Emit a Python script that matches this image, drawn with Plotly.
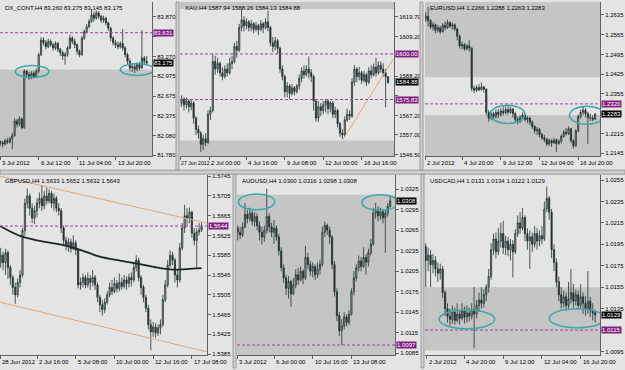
import plotly.graph_objects as go

# ======================= DATA =======================
# ---- DX_CONT,H4 ----
dx_title = "DX_CONT,H4 83.260 83.275 83.145 83.175"
dx_open0 = 81.99
dx_close = [81.97, 81.95, 82.00, 81.98, 82.03, 82.08, 82.30, 82.25, 82.33, 82.20,
            83.05, 83.00, 82.95, 83.02, 82.97, 83.05, 83.30, 83.52, 83.48, 83.42,
            83.50, 83.45, 83.40, 83.47, 83.38, 83.33, 83.28, 83.30, 83.40, 83.55,
            83.50, 83.45, 83.35, 83.30, 83.55, 83.65, 83.72, 83.80, 83.90, 83.85,
            83.93, 83.88, 83.82, 83.85, 83.78, 83.70, 83.55, 83.48, 83.45, 83.42,
            83.47, 83.40, 83.30, 83.20, 83.10, 83.12, 83.08, 83.15, 83.10, 83.25,
            83.20, 83.175]
dx_high = [82.00, 82.00, 82.03, 82.04, 82.06, 82.12, 82.34, 82.33, 82.37, 82.35,
           83.08, 83.07, 83.04, 83.05, 83.05, 83.09, 83.33, 83.56, 83.56, 83.52,
           83.54, 83.53, 83.48, 83.50, 83.49, 83.40, 83.36, 83.34, 83.43, 83.60,
           83.58, 83.54, 83.47, 83.38, 83.58, 83.68, 83.76, 83.84, 83.99, 83.95,
           83.97, 83.96, 83.90, 83.89, 83.87, 83.80, 83.72, 83.58, 83.52, 83.50,
           83.50, 83.69, 83.43, 83.33, 83.24, 83.16, 83.16, 83.18, 83.19, 83.67,
           83.28, 83.28]
dx_low = [81.92, 81.90, 81.93, 81.95, 81.96, 81.87, 82.06, 82.20, 82.22, 82.17,
          82.18, 82.95, 82.92, 82.93, 82.94, 82.95, 83.02, 83.28, 83.44, 83.38,
          83.40, 83.42, 83.36, 83.37, 83.34, 83.28, 83.22, 83.15, 83.27, 83.38,
          83.46, 83.40, 83.30, 83.26, 83.28, 83.52, 83.62, 83.70, 83.78, 83.80,
          83.83, 83.84, 83.78, 83.78, 83.74, 83.66, 83.50, 83.44, 83.40, 83.38,
          83.39, 83.36, 83.26, 83.16, 83.05, 83.04, 83.02, 83.05, 83.06, 83.08,
          83.14, 83.145]
dx_yticks = [83.870, 83.570, 83.270, 82.975, 82.675, 82.375, 82.080, 81.780]
dx_yticktext = ["83.870", "", "83.270", "82.975", "82.675", "82.375", "82.080", "81.780"]
dx_dates = ["3 Jul 2012", "6 Jul 12:00", "11 Jul 04:00", "13 Jul 20:00"]
dx_date_pos = [-0.1, 16, 32, 48]
dx_levels = [83.631]
dx_last = 83.175
dx_zones = [[81.765, 83.075]]
dx_ell_centers = [[13.3, 83.045], [57.0, 83.075]]

# ---- XAU,H4 ----
xau_title = "XAU,H4 1587.94 1588.26 1584.13 1584.88"
xau_open0 = 1572
xau_close = [1574, 1576, 1573, 1575, 1572, 1574, 1566, 1560, 1558, 1552,
             1555, 1553, 1568, 1570, 1596, 1592, 1595, 1590, 1588, 1592,
             1590, 1595, 1596, 1604, 1602, 1614, 1618, 1615, 1617, 1614,
             1616, 1613, 1615, 1613, 1616, 1614, 1617, 1614, 1606, 1604,
             1607, 1603, 1592, 1588, 1580, 1583, 1579, 1582, 1580, 1583,
             1587, 1591, 1589, 1592, 1590, 1588, 1575, 1566, 1572, 1570,
             1573, 1575, 1571, 1574, 1568, 1570, 1563, 1558, 1557, 1565,
             1568, 1567, 1585, 1592, 1588, 1590, 1586, 1589, 1585, 1591,
             1589, 1593, 1590, 1594, 1592, 1590, 1587.9, 1584.88]
xau_high = [1577, 1578, 1577, 1577, 1576, 1576, 1575, 1567, 1562, 1559,
            1557, 1558, 1570, 1572, 1600, 1599, 1598, 1596, 1593, 1594,
            1595, 1598, 1599, 1606, 1607, 1616, 1624, 1620, 1619, 1618,
            1618, 1617, 1617, 1616, 1618, 1617, 1619, 1623, 1615, 1609,
            1609, 1608, 1604, 1594, 1589, 1585, 1584, 1584, 1583, 1584,
            1589, 1593, 1594, 1594, 1598.7, 1592, 1589, 1576, 1575, 1574,
            1575, 1576, 1576, 1575, 1575, 1572, 1571, 1564, 1560, 1567,
            1571, 1570, 1587, 1594, 1593, 1593, 1591, 1591, 1590, 1593,
            1594, 1595, 1598, 1596, 1596, 1595, 1592, 1588.26]
xau_low = [1567, 1572, 1570, 1571, 1569, 1570, 1563, 1557, 1555, 1548,
           1549, 1551, 1552, 1565, 1569, 1589, 1590, 1588, 1586, 1587,
           1588, 1589, 1592, 1595, 1598, 1601, 1612, 1612, 1613, 1612,
           1612, 1611, 1612, 1610, 1612, 1611, 1613, 1612, 1604, 1601,
           1602, 1600, 1590, 1586, 1577, 1577, 1576, 1578, 1578, 1579,
           1581, 1585, 1587, 1588, 1587, 1585, 1570, 1564, 1564, 1567,
           1568, 1569, 1568, 1569, 1566, 1566, 1561, 1556, 1555, 1556,
           1564, 1565, 1566, 1583, 1585, 1586, 1584, 1585, 1583, 1584,
           1587, 1588, 1588, 1589, 1590, 1588, 1571.6, 1584.13]
xau_yticks = [1619.70, 1609.20, 1598.70, 1588.20, 1577.70, 1567.20, 1557.00, 1546.50]
xau_yticktext = ["1619.70", "1609.20", "", "1588.20", "", "1567.20", "1557.00", "1546.50"]
xau_dates = ["27 Jun 2012", "2 Jul 00:00", "4 Jul 16:00", "9 Jul 08:00", "12 Jul 00:00", "16 Jul 16:00"]
xau_date_pos = [0.33, 12.6, 28, 44, 60, 76]
xau_levels = [1600.00, 1575.83]
xau_last = 1584.88
xau_zones = [[1545.675, 1554.1], [1623.9, 1627.575]]
xau_trend_x = [68.25, 89.1]
xau_trend_y = [1554.6, 1597.1]

# ---- EURUSD,H4 ----
eur_title = "EURUSD,H4 1.2266 1.2288 1.2263 1.2283"
eur_open0 = 1.2620
eur_close = [1.2630, 1.2615, 1.2592, 1.2600, 1.2580, 1.2590, 1.2575, 1.2598, 1.2590, 1.2608,
             1.2595, 1.2600, 1.2585, 1.2560, 1.2525, 1.2530, 1.2515, 1.2525, 1.2518, 1.2375,
             1.2368, 1.2378, 1.2370, 1.2380, 1.2372, 1.2290, 1.2270, 1.2285, 1.2275, 1.2290,
             1.2282, 1.2295, 1.2288, 1.2300, 1.2290, 1.2302, 1.2285, 1.2265, 1.2258, 1.2272,
             1.2280, 1.2265, 1.2270, 1.2255, 1.2240, 1.2225, 1.2230, 1.2212, 1.2200, 1.2195,
             1.2178, 1.2190, 1.2182, 1.2192, 1.2180, 1.2188, 1.2205, 1.2220, 1.2215, 1.2232,
             1.2190, 1.2172, 1.2225, 1.2275, 1.2290, 1.2298, 1.2285, 1.2272, 1.2270, 1.2266,
             1.2283]
eur_high = [1.2645, 1.2663, 1.2620, 1.2610, 1.2605, 1.2600, 1.2595, 1.2605, 1.2612, 1.2618,
            1.2612, 1.2608, 1.2605, 1.2590, 1.2565, 1.2540, 1.2535, 1.2532, 1.2545, 1.2520,
            1.2385, 1.2386, 1.2390, 1.2396, 1.2384, 1.2375, 1.2298, 1.2295, 1.2292, 1.2300,
            1.2302, 1.2305, 1.2310, 1.2312, 1.2318, 1.2310, 1.2305, 1.2292, 1.2275, 1.2280,
            1.2290, 1.2285, 1.2278, 1.2275, 1.2262, 1.2245, 1.2238, 1.2235, 1.2218, 1.2210,
            1.2200, 1.2198, 1.2195, 1.2200, 1.2198, 1.2195, 1.2212, 1.2228, 1.2235, 1.2240,
            1.2235, 1.2195, 1.2230, 1.2282, 1.2300, 1.2310, 1.2305, 1.2292, 1.2285, 1.2280,
            1.2288]
eur_low = [1.2610, 1.2595, 1.2585, 1.2580, 1.2570, 1.2572, 1.2568, 1.2572, 1.2580, 1.2585,
           1.2588, 1.2582, 1.2578, 1.2545, 1.2515, 1.2512, 1.2508, 1.2510, 1.2505, 1.2365,
           1.2358, 1.2362, 1.2365, 1.2368, 1.2360, 1.2280, 1.2258, 1.2262, 1.2265, 1.2268,
           1.2270, 1.2275, 1.2278, 1.2282, 1.2280, 1.2285, 1.2272, 1.2255, 1.2248, 1.2252,
           1.2262, 1.2258, 1.2252, 1.2245, 1.2232, 1.2215, 1.2210, 1.2202, 1.2192, 1.2185,
           1.2170, 1.2172, 1.2168, 1.2178, 1.2150, 1.2175, 1.2180, 1.2200, 1.2208, 1.2210,
           1.2182, 1.2162, 1.2168, 1.2220, 1.2268, 1.2280, 1.2272, 1.2179, 1.2260, 1.2258,
           1.2263]
eur_yticks = [1.2635, 1.2565, 1.2495, 1.2425, 1.2355, 1.2285, 1.2215, 1.2145]
eur_yticktext = ["1.2635", "1.2565", "1.2495", "1.2425", "1.2355", "", "1.2215", "1.2145"]
eur_dates = ["2 Jul 2012", "4 Jul 20:00", "9 Jul 12:00", "12 Jul 04:00", "16 Jul 20:00"]
eur_date_pos = [-0.3, 15, 31, 47, 63]
eur_levels = [1.2320]
eur_last = 1.2283
eur_zones = [[1.2414, 1.26805], [1.21345, 1.2281]]
eur_ell_centers = [[33.8, 1.2283], [66.6, 1.2280]]

# ---- GBPUSD,H4 ----
gbp_title = "GBPUSD,H4 1.5633 1.5652 1.5632 1.5643"
gbp_open0 = 1.5570
gbp_close = [1.5585, 1.5570, 1.5590, 1.5560, 1.5540, 1.5520, 1.5505, 1.5530, 1.5545, 1.5635,
             1.5690, 1.5705, 1.5680, 1.5660, 1.5675, 1.5690, 1.5700, 1.5685, 1.5705, 1.5695,
             1.5710, 1.5690, 1.5700, 1.5680, 1.5675, 1.5640, 1.5615, 1.5605, 1.5612, 1.5598,
             1.5610, 1.5595, 1.5525, 1.5530, 1.5540, 1.5525, 1.5538, 1.5530, 1.5540, 1.5525,
             1.5500, 1.5485, 1.5475, 1.5490, 1.5505, 1.5520, 1.5512, 1.5528, 1.5518, 1.5530,
             1.5522, 1.5535, 1.5528, 1.5540, 1.5535, 1.5560, 1.5575, 1.5540, 1.5520, 1.5500,
             1.5478, 1.5445, 1.5430, 1.5440, 1.5428, 1.5438, 1.5445, 1.5495, 1.5525, 1.5565,
             1.5585, 1.5575, 1.5545, 1.5535, 1.5600, 1.5640, 1.5665, 1.5660, 1.5672, 1.5630,
             1.5615, 1.5632, 1.5636, 1.5643]
gbp_high = [1.5600, 1.5592, 1.5598, 1.5595, 1.5565, 1.5545, 1.5530, 1.5538, 1.5555, 1.5640,
            1.5700, 1.5720, 1.5710, 1.5690, 1.5685, 1.5700, 1.5712, 1.5727, 1.5715, 1.5722,
            1.5718, 1.5715, 1.5710, 1.5705, 1.5690, 1.5680, 1.5645, 1.5622, 1.5620, 1.5618,
            1.5625, 1.5615, 1.5600, 1.5540, 1.5548, 1.5545, 1.5550, 1.5545, 1.5555, 1.5545,
            1.5530, 1.5505, 1.5495, 1.5498, 1.5512, 1.5530, 1.5535, 1.5540, 1.5535, 1.5548,
            1.5540, 1.5545, 1.5542, 1.5548, 1.5550, 1.5572, 1.5585, 1.5580, 1.5545, 1.5525,
            1.5505, 1.5485, 1.5455, 1.5450, 1.5448, 1.5445, 1.5455, 1.5505, 1.5535, 1.5575,
            1.5595, 1.5592, 1.5580, 1.5555, 1.5610, 1.5650, 1.5687, 1.5680, 1.5682, 1.5675,
            1.5640, 1.5640, 1.5650, 1.5652]
gbp_low = [1.5560, 1.5555, 1.5545, 1.5537, 1.5525, 1.5505, 1.5487, 1.5500, 1.5520, 1.5540,
           1.5625, 1.5680, 1.5665, 1.5650, 1.5648, 1.5662, 1.5680, 1.5675, 1.5678, 1.5688,
           1.5690, 1.5680, 1.5675, 1.5672, 1.5665, 1.5630, 1.5605, 1.5595, 1.5592, 1.5590,
           1.5595, 1.5585, 1.5518, 1.5515, 1.5520, 1.5518, 1.5520, 1.5515, 1.5522, 1.5515,
           1.5490, 1.5470, 1.5463, 1.5468, 1.5485, 1.5500, 1.5505, 1.5508, 1.5510, 1.5512,
           1.5515, 1.5518, 1.5515, 1.5520, 1.5522, 1.5530, 1.5552, 1.5532, 1.5505, 1.5490,
           1.5470, 1.5435, 1.5393, 1.5420, 1.5418, 1.5422, 1.5425, 1.5440, 1.5490, 1.5520,
           1.5560, 1.5565, 1.5530, 1.5520, 1.5530, 1.5595, 1.5630, 1.5645, 1.5650, 1.5620,
           1.5605, 1.5557, 1.5625, 1.5632]
gbp_ma_x = [-0.29, 8, 16.2, 27.3, 34, 41, 49.3, 57.6, 65.8, 71.3, 76.8, 83]
gbp_ma_y = [1.5644, 1.5624, 1.5614, 1.5604, 1.5594, 1.5582, 1.5574, 1.5567, 1.5559, 1.5556, 1.5557, 1.5559]
gbp_chan_x = [-0.29, 85.1]
gbp_chan_up = [1.5745, 1.5650]
gbp_chan_dn = [1.5490, 1.5390]
gbp_yticks = [1.5745, 1.5705, 1.5665, 1.5625, 1.5585, 1.5545, 1.5505, 1.5465, 1.5425, 1.5385]
gbp_yticktext = ["1.5745", "1.5705", "1.5665", "1.5625", "1.5585", "1.5545", "1.5505", "1.5465", "1.5425", "1.5385"]
gbp_dates = ["28 Jun 2012", "2 Jul 16:00", "5 Jul 08:00", "10 Jul 00:00", "12 Jul 16:00", "17 Jul 08:00"]
gbp_date_pos = [-0.29, 15, 31, 47, 63, 79]
gbp_levels = [1.5644]

# ---- AUDUSD,H4 ----
aud_title = "AUDUSD,H4 1.0300 1.0316 1.0298 1.0308"
aud_open0 = 1.0268
aud_close = [1.0262, 1.0258, 1.0270, 1.0288, 1.0282, 1.0290, 1.0278, 1.0285, 1.0272, 1.0262,
             1.0255, 1.0265, 1.0285, 1.0270, 1.0262, 1.0268, 1.0255, 1.0235, 1.0210, 1.0195,
             1.0180, 1.0190, 1.0172, 1.0185, 1.0200, 1.0192, 1.0205, 1.0195, 1.0225, 1.0215,
             1.0205, 1.0212, 1.0200, 1.0208, 1.0215, 1.0262, 1.0272, 1.0265, 1.0255, 1.0215,
             1.0175, 1.0140, 1.0118, 1.0125, 1.0138, 1.0130, 1.0142, 1.0175, 1.0195, 1.0210,
             1.0220, 1.0212, 1.0225, 1.0218, 1.0232, 1.0245, 1.0290, 1.0295, 1.0286, 1.0292,
             1.0283, 1.0290, 1.0300, 1.0308]
aud_high = [1.0272, 1.0270, 1.0276, 1.0305, 1.0295, 1.0298, 1.0294, 1.0292, 1.0290, 1.0278,
            1.0270, 1.0272, 1.0326, 1.0290, 1.0276, 1.0280, 1.0272, 1.0260, 1.0240, 1.0215,
            1.0200, 1.0198, 1.0192, 1.0195, 1.0208, 1.0210, 1.0212, 1.0208, 1.0242, 1.0232,
            1.0220, 1.0218, 1.0215, 1.0218, 1.0222, 1.0270, 1.0278, 1.0275, 1.0270, 1.0258,
            1.0220, 1.0180, 1.0145, 1.0135, 1.0145, 1.0142, 1.0148, 1.0180, 1.0205, 1.0215,
            1.0228, 1.0226, 1.0240, 1.0230, 1.0238, 1.0252, 1.0298, 1.0305, 1.0300, 1.0298,
            1.0296, 1.0295, 1.0305, 1.0316]
aud_low = [1.0250, 1.0252, 1.0255, 1.0268, 1.0275, 1.0278, 1.0272, 1.0270, 1.0265, 1.0250,
           1.0244, 1.0248, 1.0260, 1.0262, 1.0255, 1.0245, 1.0250, 1.0228, 1.0205, 1.0188,
           1.0170, 1.0165, 1.0153, 1.0170, 1.0180, 1.0185, 1.0190, 1.0186, 1.0192, 1.0208,
           1.0198, 1.0196, 1.0192, 1.0195, 1.0200, 1.0212, 1.0255, 1.0258, 1.0245, 1.0208,
           1.0168, 1.0132, 1.0110, 1.0097, 1.0120, 1.0124, 1.0126, 1.0140, 1.0170, 1.0190,
           1.0205, 1.0205, 1.0210, 1.0200, 1.0212, 1.0228, 1.0242, 1.0282, 1.0278, 1.0280,
           1.0275, 1.0232, 1.0285, 1.0298]
aud_yticks = [1.0325, 1.0295, 1.0265, 1.0235, 1.0205, 1.0175, 1.0145, 1.0115, 1.0085]
aud_yticktext = ["1.0325", "1.0295", "1.0265", "1.0235", "1.0205", "1.0175", "1.0145", "1.0115", "1.0085"]
aud_dates = ["3 Jul 2012", "6 Jul 00:00", "10 Jul 16:00", "13 Jul 08:00"]
aud_date_pos = [-0.29, 15, 31, 47]
aud_levels = [1.0097]
aud_last = 1.0308
aud_zones = [[1.00822, 1.0317]]
aud_ell_centers = [[7.8, 1.03064], [58.8, 1.03055]]

# ---- USDCAD,H4 ----
cad_title = "USDCAD,H4 1.0131 1.0134 1.0122 1.0129"
cad_open0 = 1.0193
cad_close = [1.0180, 1.0185, 1.0176, 1.0180, 1.0172, 1.0168, 1.0172, 1.0150, 1.0135, 1.0128,
             1.0125, 1.0132, 1.0124, 1.0130, 1.0126, 1.0133, 1.0127, 1.0131, 1.0128, 1.0134,
             1.0130, 1.0138, 1.0143, 1.0140, 1.0148, 1.0155, 1.0165, 1.0190, 1.0200, 1.0188,
             1.0198, 1.0205, 1.0192, 1.0198, 1.0190, 1.0195, 1.0188, 1.0205, 1.0215, 1.0210,
             1.0220, 1.0205, 1.0198, 1.0202, 1.0195, 1.0205, 1.0198, 1.0203, 1.0200, 1.0228,
             1.0238, 1.0225, 1.0190, 1.0178, 1.0160, 1.0148, 1.0140, 1.0146, 1.0138, 1.0144,
             1.0150, 1.0142, 1.0148, 1.0138, 1.0146, 1.0140, 1.0135, 1.0142, 1.0133, 1.0131,
             1.0129]
cad_high = [1.0196, 1.0192, 1.0190, 1.0186, 1.0184, 1.0178, 1.0177, 1.0175, 1.0152, 1.0140,
            1.0135, 1.0138, 1.0136, 1.0140, 1.0134, 1.0140, 1.0137, 1.0138, 1.0136, 1.0140,
            1.0155, 1.0143, 1.0150, 1.0155, 1.0153, 1.0158, 1.0172, 1.0196, 1.0205, 1.0206,
            1.0210, 1.0215, 1.0217, 1.0203, 1.0202, 1.0200, 1.0199, 1.0209, 1.0222, 1.0225,
            1.0229, 1.0222, 1.0210, 1.0208, 1.0206, 1.0212, 1.0210, 1.0208, 1.0212, 1.0235,
            1.0249, 1.0240, 1.0228, 1.0195, 1.0182, 1.0165, 1.0155, 1.0152, 1.0150, 1.0160,
            1.0172, 1.0158, 1.0153, 1.0152, 1.0158, 1.0150, 1.0147, 1.0170, 1.0146, 1.0140,
            1.0134]
cad_low = [1.0155, 1.0170, 1.0155, 1.0168, 1.0165, 1.0160, 1.0162, 1.0145, 1.0128, 1.0122,
           1.0119, 1.0121, 1.0120, 1.0122, 1.0120, 1.0124, 1.0121, 1.0122, 1.0123, 1.0125,
           1.0098, 1.0126, 1.0132, 1.0135, 1.0136, 1.0142, 1.0150, 1.0162, 1.0185, 1.0182,
           1.0185, 1.0192, 1.0186, 1.0185, 1.0184, 1.0180, 1.0164, 1.0186, 1.0202, 1.0205,
           1.0208, 1.0198, 1.0190, 1.0172, 1.0188, 1.0192, 1.0190, 1.0193, 1.0195, 1.0198,
           1.0225, 1.0218, 1.0182, 1.0170, 1.0155, 1.0142, 1.0135, 1.0136, 1.0133, 1.0135,
           1.0140, 1.0136, 1.0138, 1.0134, 1.0135, 1.0130, 1.0128, 1.0130, 1.0127, 1.0124,
           1.0122]
cad_yticks = [1.0255, 1.0235, 1.0215, 1.0195, 1.0175, 1.0155, 1.0135, 1.0115, 1.0095]
cad_yticktext = ["1.0255", "1.0235", "1.0215", "1.0195", "1.0175", "1.0155", "1.0135", "", "1.0095"]
cad_dates = ["2 Jul 2012", "4 Jul 20:00", "9 Jul 12:00", "12 Jul 04:00", "16 Jul 20:00"]
cad_date_pos = [0.5, 16, 32, 48, 64]
cad_levels = [1.0115]
cad_last = 1.0129
cad_zones = [[1.0096, 1.0155]]
cad_ell_centers = [[17.0, 1.0125], [62.5, 1.0126]]

# ======================= STYLE / LAYOUT =======================
W, H = 625, 370
BG = "#e4e4e4"
ZONE = "#c5c5c5"
FRAME = "#d0d0d0"
DARK = "#223030"
LIGHT = "#aab2b2"
PURPLE = "#802080"
DASH = "#a040a0"
TEAL = "#3aa8a6"
TAN = "#d8aa7a"
AXC = "#606060"
FONT = "Liberation Sans"
FS = 6


def px_x(p):
    return p / W


def px_y(p):
    return 1 - p / H


fig = go.Figure()
shapes = []
annos = []

TOP = (0, 156)
BOT = (175, 357)

panels = [
    dict(title=dx_title, open0=dx_open0, close=dx_close, high=dx_high, low=dx_low,
         xpx=(0, 152), ypx=TOP, xr=[-0.1, 63.2], yr=[81.765, 84.095],
         yt=dx_yticks, ytt=dx_yticktext, dates=dx_dates, dpos=dx_date_pos,
         levels=dx_levels, last=dx_last, zones=dx_zones,
         ells=dx_ell_centers, ew=7.0, eh=0.09, fmt="{:.3f}"),
    dict(title=xau_title, open0=xau_open0, close=xau_close, high=xau_high, low=xau_low,
         xpx=(180, 394), ypx=TOP, xr=[0.33, 89.5], yr=[1545.675, 1627.575],
         yt=xau_yticks, ytt=xau_yticktext, dates=xau_dates, dpos=xau_date_pos,
         levels=xau_levels, last=xau_last, zones=xau_zones,
         ells=[], ew=0, eh=0, fmt="{:.2f}"),
    dict(title=eur_title, open0=eur_open0, close=eur_close, high=eur_high, low=eur_low,
         xpx=(425, 600), ypx=TOP, xr=[-0.3, 72.0], yr=[1.21345, 1.26805],
         yt=eur_yticks, ytt=eur_yticktext, dates=eur_dates, dpos=eur_date_pos,
         levels=eur_levels, last=eur_last, zones=eur_zones,
         ells=eur_ell_centers, ew=7.2, eh=0.0032, fmt="{:.4f}"),
    dict(title=gbp_title, open0=gbp_open0, close=gbp_close, high=gbp_high, low=gbp_low,
         xpx=(0, 207), ypx=BOT, xr=[-0.29, 85.25], yr=[1.5383, 1.5747],
         yt=gbp_yticks, ytt=gbp_yticktext, dates=gbp_dates, dpos=gbp_date_pos,
         levels=gbp_levels, last=None, zones=[],
         ells=[], ew=0, eh=0, fmt="{:.4f}"),
    dict(title=aud_title, open0=aud_open0, close=aud_close, high=aud_high, low=aud_low,
         xpx=(237, 395), ypx=BOT, xr=[-0.29, 65.0], yr=[1.00822, 1.03457],
         yt=aud_yticks, ytt=aud_yticktext, dates=aud_dates, dpos=aud_date_pos,
         levels=aud_levels, last=aud_last, zones=aud_zones,
         ells=aud_ell_centers, ew=7.5, eh=0.00115, fmt="{:.4f}"),
    dict(title=cad_title, open0=cad_open0, close=cad_close, high=cad_high, low=cad_low,
         xpx=(425, 600), ypx=BOT, xr=[-0.3, 72.0], yr=[1.00916, 1.02596],
         yt=cad_yticks, ytt=cad_yticktext, dates=cad_dates, dpos=cad_date_pos,
         levels=cad_levels, last=cad_last, zones=cad_zones,
         ells=cad_ell_centers, ew=11.5, eh=0.00088, fmt="{:.4f}"),
]

frame_rects = [
    (0, 170, 625, 174),
    (176, 0, 179, 170),
    (420, 0, 423, 170),
    (233, 174, 236, 370),
    (421, 174, 424, 370),
]
for (x0, y0, x1, y1) in frame_rects:
    shapes.append(dict(type="rect", xref="paper", yref="paper",
                       x0=px_x(x0), x1=px_x(x1), y0=px_y(y1), y1=px_y(y0),
                       fillcolor=FRAME, line=dict(color="#8a8a8a", width=0.8), layer="above"))

layout_axes = {}
level_traces = []
for k, p in enumerate(panels, start=1):
    xa = "x" if k == 1 else f"x{k}"
    ya = "y" if k == 1 else f"y{k}"
    xkey = "xaxis" if k == 1 else f"xaxis{k}"
    ykey = "yaxis" if k == 1 else f"yaxis{k}"
    n = len(p["close"])
    idx = list(range(n))
    opens = [p["open0"]] + p["close"][:-1]

    fig.add_trace(go.Candlestick(
        x=idx, open=opens, high=p["high"], low=p["low"], close=p["close"],
        xaxis=xa, yaxis=ya, whiskerwidth=0,
        increasing=dict(line=dict(color=DARK, width=0.8), fillcolor=LIGHT),
        decreasing=dict(line=dict(color=DARK, width=0.8), fillcolor=DARK),
        showlegend=False, hoverinfo="skip"))

    # dashed horizontal price levels, drawn as line traces over the candles
    for lv in p["levels"]:
        level_traces.append(go.Scatter(x=p["xr"], y=[lv, lv], xaxis=xa, yaxis=ya, mode="lines",
                                       line=dict(color=DASH, width=1, dash="3px,2px"),
                                       showlegend=False, hoverinfo="skip", cliponaxis=True))

    x0p, x1p = p["xpx"]
    y0p, y1p = p["ypx"]
    layout_axes[xkey] = dict(
        domain=[px_x(x0p), px_x(x1p)], range=p["xr"], anchor=ya,
        showgrid=False, zeroline=False, showline=True, linecolor=AXC, linewidth=1,
        ticks="outside", ticklen=3, tickcolor=AXC, tickvals=p["dpos"],
        showticklabels=False, rangeslider=dict(visible=False), fixedrange=True)
    layout_axes[ykey] = dict(
        domain=[px_y(y1p), px_y(y0p)], range=p["yr"], anchor=xa, side="right",
        showgrid=False, zeroline=False, showline=True, linecolor=AXC, linewidth=1,
        ticks="outside", ticklen=3, tickcolor=AXC, tickvals=p["yt"], ticktext=p["ytt"],
        tickfont=dict(family=FONT, size=FS, color="#000"), fixedrange=True)

    for z0, z1 in p["zones"]:
        shapes.append(dict(type="rect", xref=f"{xa} domain", yref=ya, x0=0, x1=1, y0=z0, y1=z1,
                           fillcolor=ZONE, line=dict(width=0), layer="below"))
    for (cx, cy) in p["ells"]:
        shapes.append(dict(type="circle", xref=xa, yref=ya,
                           x0=cx - p["ew"], x1=cx + p["ew"], y0=cy - p["eh"], y1=cy + p["eh"],
                           line=dict(color=TEAL, width=1.5), layer="above"))

    annos.append(dict(xref="paper", yref="paper", x=px_x(x0p + 3), y=px_y(y0p + 1),
                      xanchor="left", yanchor="top", showarrow=False, text=p["title"],
                      font=dict(family=FONT, size=FS, color="#000")))
    for j, (d, pos) in enumerate(zip(p["dates"], p["dpos"])):
        first_crowded = (j == 0 and k == 2)
        annos.append(dict(xref=xa, yref="paper", x=pos, y=px_y(y1p + 2),
                          xanchor="left", yanchor="top", showarrow=False, text=d,
                          xshift=-1 if first_crowded else 0,
                          font=dict(family=FONT, size=5.2 if first_crowded else FS, color="#000")))
    for lv in p["levels"]:
        annos.append(dict(xref=f"{xa} domain", yref=ya, x=1, y=lv, xanchor="left", yanchor="middle",
                          xshift=1, showarrow=False, text=p["fmt"].format(lv), bgcolor=PURPLE,
                          borderpad=0, font=dict(family=FONT, size=FS, color="#fff")))
    if p["last"] is not None:
        annos.append(dict(xref=f"{xa} domain", yref=ya, x=1, y=p["last"], xanchor="left",
                          yanchor="middle", xshift=1, showarrow=False, text=p["fmt"].format(p["last"]),
                          bgcolor="#000000", borderpad=0,
                          font=dict(family=FONT, size=FS, color="#fff")))

fig.add_trace(go.Scatter(x=xau_trend_x, y=xau_trend_y, xaxis="x2", yaxis="y2", mode="lines",
                         line=dict(color=TAN, width=1), showlegend=False, hoverinfo="skip"))
fig.add_trace(go.Scatter(x=gbp_chan_x, y=gbp_chan_up, xaxis="x4", yaxis="y4", mode="lines",
                         line=dict(color=TAN, width=1), showlegend=False, hoverinfo="skip"))
fig.add_trace(go.Scatter(x=gbp_chan_x, y=gbp_chan_dn, xaxis="x4", yaxis="y4", mode="lines",
                         line=dict(color=TAN, width=1), showlegend=False, hoverinfo="skip"))
fig.add_trace(go.Scatter(x=gbp_ma_x, y=gbp_ma_y, xaxis="x4", yaxis="y4", mode="lines",
                         line=dict(color="#1c2626", width=1.8, shape="spline"),
                         showlegend=False, hoverinfo="skip"))
for t in level_traces:
    fig.add_trace(t)

fig.update_layout(width=W, height=H, margin=dict(l=0, r=0, t=0, b=0),
                  paper_bgcolor=BG, plot_bgcolor=BG, showlegend=False,
                  shapes=shapes, annotations=annos, **layout_axes)

fig.write_html("out.html")
